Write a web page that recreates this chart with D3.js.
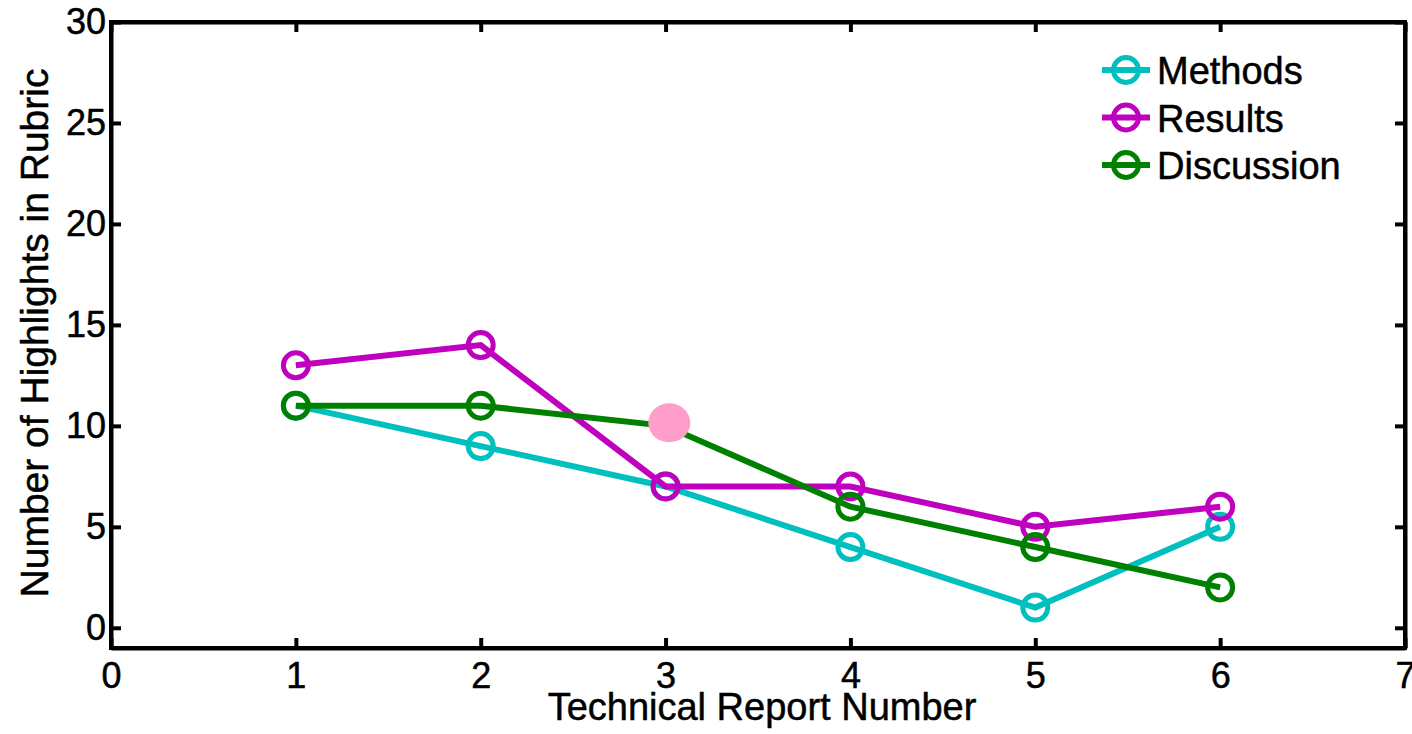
<!DOCTYPE html>
<html>
<head>
<meta charset="utf-8">
<script src="https://cdn.jsdelivr.net/npm/d3@7"></script>
<style>
  html, body { margin: 0; padding: 0; background: #fff; }
  svg { display: block; font-family: "Liberation Sans", Arial, sans-serif; }
  text { fill: #000; stroke: #000; stroke-width: 0.5px; }
</style>
</head>
<body>
<svg id="chart" width="1412" height="734"></svg>
<script>
// Report numbers along the x axis
const reports = [1, 2, 3, 4, 5, 6];
// Highlight counts per rubric section
const methods = [11, 9, 7, 4, 1, 5];
const results = [13, 14, 7, 7, 5, 6];
const discussion = [11, 11, 10, 6, 4, 2];
const seriesNames = ["Methods", "Results", "Discussion"];
const seriesColors = ["#00bfbf", "#bf00bf", "#008000"];
// Axis ticks
const xTicks = [0, 1, 2, 3, 4, 5, 6, 7];
const yTicks = [0, 5, 10, 15, 20, 25, 30];
// Highlighted point
const highlight = [{ x: 3.02, y: 10.15 }];

const svg = d3.select("#chart");
const plotLeft = 111, plotRight = 1405, plotTop = 22, plotBottom = 648;

const x = d3.scaleLinear().domain([0, 7]).range([plotLeft, plotRight]);
const y = d3.scaleLinear().domain([-1, 30]).range([plotBottom, plotTop]);

const series = [methods, results, discussion].map((vals, i) => ({
  name: seriesNames[i],
  color: seriesColors[i],
  points: reports.map((r, j) => ({ x: r, y: vals[j] }))
}));

const line = d3.line().x(d => x(d.x)).y(d => y(d.y));

// Data lines with hollow circle markers
series.forEach(s => {
  const g = svg.append("g");
  g.append("path")
    .attr("d", line(s.points))
    .attr("fill", "none")
    .attr("stroke", s.color)
    .attr("stroke-width", 6)
    .attr("stroke-linejoin", "miter");
  g.selectAll("circle")
    .data(s.points)
    .enter().append("circle")
    .attr("cx", d => x(d.x))
    .attr("cy", d => y(d.y))
    .attr("r", 12.5)
    .attr("fill", "none")
    .attr("stroke", s.color)
    .attr("stroke-width", 5);
});

// Pink marker
svg.selectAll("ellipse.hl")
  .data(highlight)
  .enter().append("ellipse")
  .attr("class", "hl")
  .attr("cx", d => x(d.x))
  .attr("cy", d => y(d.y))
  .attr("rx", 21)
  .attr("ry", 19.5)
  .attr("fill", "#ff9ecb");

// Axes box with inward ticks on all four sides
const tickLen = 10;
const axisStroke = 4;
const xAxisB = d3.axisBottom(x).tickValues(xTicks).tickSizeInner(-tickLen).tickSizeOuter(0).tickPadding(14).tickFormat(d3.format("d"));
const xAxisT = d3.axisTop(x).tickValues(xTicks).tickSizeInner(-tickLen).tickSizeOuter(0).tickFormat("");
const yAxisL = d3.axisLeft(y).tickValues(yTicks).tickSizeInner(-tickLen).tickSizeOuter(0).tickPadding(5).tickFormat(d3.format("d"));
const yAxisR = d3.axisRight(y).tickValues(yTicks).tickSizeInner(-tickLen).tickSizeOuter(0).tickFormat("");

function styleAxis(g) {
  g.select(".domain").attr("stroke", "#000").attr("stroke-width", axisStroke);
  g.selectAll(".tick line").attr("stroke", "#000").attr("stroke-width", axisStroke);
  g.selectAll(".tick text").attr("fill", "#000").style("font-size", "36px")
    .style("font-family", "'Liberation Sans', Arial, sans-serif");
}

svg.append("g").attr("transform", `translate(0,${plotBottom})`).call(xAxisB).call(styleAxis);
svg.append("g").attr("transform", `translate(0,${plotTop})`).call(xAxisT).call(styleAxis);
svg.append("g").attr("transform", `translate(${plotLeft},0)`).call(yAxisL).call(styleAxis);
svg.append("g").attr("transform", `translate(${plotRight},0)`).call(yAxisR).call(styleAxis);

// Square the box corners
svg.append("rect")
  .attr("x", plotLeft).attr("y", plotTop)
  .attr("width", plotRight - plotLeft).attr("height", plotBottom - plotTop)
  .attr("fill", "none").attr("stroke", "#000").attr("stroke-width", axisStroke);

// Axis titles
svg.append("text")
  .attr("x", (plotLeft + plotRight) / 2 + 4)
  .attr("y", 720)
  .attr("text-anchor", "middle")
  .style("font-size", "38px")
  .text("Technical Report Number");

svg.append("text")
  .attr("transform", `translate(48,333) rotate(-90)`)
  .attr("text-anchor", "middle")
  .style("font-size", "39px")
  .text("Number of Highlights in Rubric");

// Legend
const legend = svg.append("g");
series.forEach((s, i) => {
  const ly = 70 + i * 47.5;
  legend.append("line")
    .attr("x1", 1102).attr("x2", 1150)
    .attr("y1", ly).attr("y2", ly)
    .attr("stroke", s.color).attr("stroke-width", 6);
  legend.append("circle")
    .attr("cx", 1126).attr("cy", ly).attr("r", 12.5)
    .attr("fill", "none").attr("stroke", s.color).attr("stroke-width", 5);
  legend.append("text")
    .attr("x", 1157).attr("y", ly + 14)
    .style("font-size", "38px")
    .text(s.name);
});
</script>
</body>
</html>
